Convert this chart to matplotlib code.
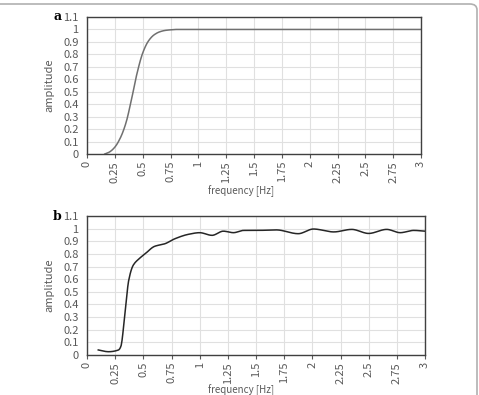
import matplotlib.pyplot as plt
from matplotlib.patches import FancyBboxPatch
import numpy as np

# panel a: smooth filter response
freq_a = [0.16, 0.20, 0.25, 0.30, 0.35, 0.40, 0.45, 0.50, 0.55, 0.60, 0.65, 0.70, 0.75, 0.80, 1.0, 1.5, 2.0, 2.5, 3.0]
amp_a = [0.0, 0.015, 0.055, 0.13, 0.25, 0.44, 0.65, 0.81, 0.905, 0.955, 0.98, 0.992, 0.997, 1.0, 1.0, 1.0, 1.0, 1.0, 1.0]

# panel b: measured response
freq_b = [0.10, 0.19, 0.28, 0.30, 0.337, 0.37, 0.41, 0.46, 0.515, 0.60, 0.69, 0.78, 0.90, 1.0, 1.11, 1.21, 1.30, 1.39, 1.51, 1.68,
          1.875, 2.01, 2.19, 2.35, 2.50, 2.66, 2.78, 2.90, 3.0]
amp_b = [0.04, 0.026, 0.04, 0.066, 0.33, 0.59, 0.71, 0.76, 0.80, 0.86, 0.88, 0.92, 0.955, 0.968, 0.947, 0.98, 0.968, 0.986, 0.986, 0.99,
         0.96, 0.997, 0.974, 0.994, 0.962, 0.994, 0.968, 0.986, 0.98]

xticks = [0, 0.25, 0.5, 0.75, 1, 1.25, 1.5, 1.75, 2, 2.25, 2.5, 2.75, 3]
xlabels = ["0", "0.25", "0.5", "0.75", "1", "1.25", "1.5", "1.75", "2", "2.25", "2.5", "2.75", "3"]
yticks = [0, 0.1, 0.2, 0.3, 0.4, 0.5, 0.6, 0.7, 0.8, 0.9, 1, 1.1]
ylabels = ["0", "0.1", "0.2", "0.3", "0.4", "0.5", "0.6", "0.7", "0.8", "0.9", "1", "1.1"]

plt.rcParams['font.family'] = ['Noto Sans CJK JP', 'DejaVu Sans']
W, H = 479, 395
fig = plt.figure(figsize=(W / 100, H / 100), dpi=100)

# rounded frame round the figure
frame = FancyBboxPatch((-20 / W, -30 / H), 497 / W, 421 / H, boxstyle="round,pad=0,rounding_size=0.015",
                       transform=fig.transFigure, fill=False, ec='#b0b0b0', lw=1.2)
fig.patches.append(frame)


def smooth(x, y):
    x = np.asarray(x, float)
    y = np.asarray(y, float)
    xs = np.linspace(x[0], x[-1], 400)
    # monotone cubic (pchip-like) through the points
    d = np.diff(y) / np.diff(x)
    m = np.zeros_like(y)
    m[0], m[-1] = d[0], d[-1]
    for i in range(1, len(y) - 1):
        if d[i - 1] * d[i] > 0:
            w1 = 2 * (x[i + 1] - x[i]) + (x[i] - x[i - 1])
            w2 = (x[i + 1] - x[i]) + 2 * (x[i] - x[i - 1])
            m[i] = (w1 + w2) / (w1 / d[i - 1] + w2 / d[i])
    idx = np.clip(np.searchsorted(x, xs) - 1, 0, len(x) - 2)
    h = x[idx + 1] - x[idx]
    t = (xs - x[idx]) / h
    ys = ((2 * t**3 - 3 * t**2 + 1) * y[idx] + (t**3 - 2 * t**2 + t) * h * m[idx]
          + (-2 * t**3 + 3 * t**2) * y[idx + 1] + (t**3 - t**2) * h * m[idx + 1])
    return xs, ys


def panel(rect, fx, fy, color, letter, xlab_y):
    ax = fig.add_axes(rect)
    xs, ys = smooth(fx, fy)
    ax.plot(xs, ys, color=color, lw=1.1)
    ax.set_xlim(0, 3)
    ax.set_ylim(0, 1.1)
    ax.set_xticks(xticks)
    ax.set_xticklabels(xlabels, rotation=90, fontsize=8, color='#595959')
    ax.set_yticks(yticks)
    ax.set_yticklabels(ylabels, fontsize=8, color='#595959')
    ax.tick_params(axis='x', length=3, color='#595959', pad=2)
    ax.tick_params(axis='y', length=0, pad=6)
    ax.grid(True, color='#e0e0e0', lw=0.8)
    ax.set_axisbelow(True)
    for s in ax.spines.values():
        s.set_color('#404040')
        s.set_linewidth(1.0)
    ax.set_ylabel("amplitude", fontsize=8, color='#595959', labelpad=6)
    pos = ax.get_position()
    fig.text(53 / W, pos.y1, letter, fontsize=9, fontweight='bold', family='DejaVu Serif', ha='left', va='center')
    fig.text(241 / W, xlab_y, "frequency [Hz]", fontsize=7, color='#595959', ha='center', va='center')
    return ax


ax1 = panel([87 / W, (H - 154) / H, 334 / W, 137 / H], freq_a, amp_a, '#707070', 'a', (H - 191) / H)
ax2 = panel([87 / W, (H - 355) / H, 338 / W, 139 / H], freq_b, amp_b, '#262626', 'b', (H - 390) / H)

fig.savefig("out.png", dpi=100)
